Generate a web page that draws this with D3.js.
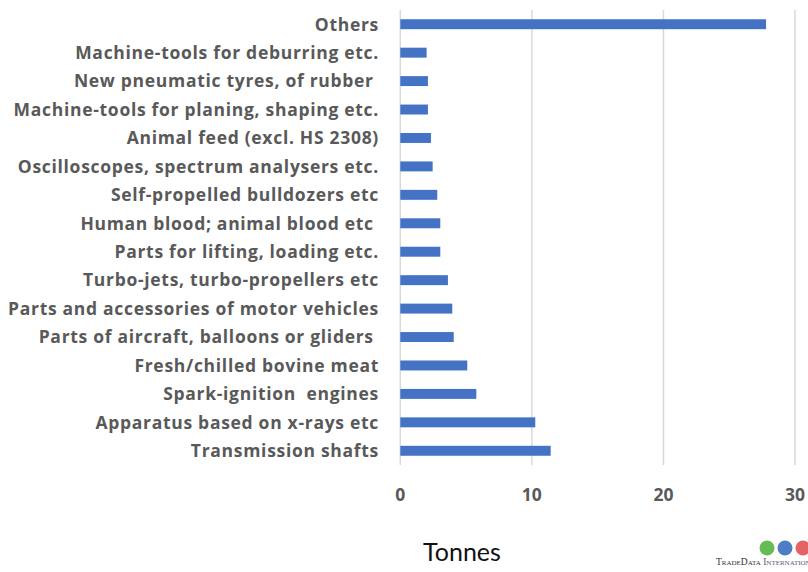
<!DOCTYPE html>
<html><head><meta charset="utf-8">
<script src="https://cdn.jsdelivr.net/npm/d3@7"></script>
<style>body{margin:0;background:#fff;} svg{display:block;}</style>
</head><body><svg id="c" width="808" height="572"></svg>
<script>
const categories = [
  "Others",
  "Machine-tools for deburring etc.",
  "New pneumatic tyres, of rubber ",
  "Machine-tools for planing, shaping etc.",
  "Animal feed (excl. HS 2308)",
  "Oscilloscopes, spectrum analysers etc.",
  "Self-propelled bulldozers etc",
  "Human blood; animal blood etc ",
  "Parts for lifting, loading etc.",
  "Turbo-jets, turbo-propellers etc",
  "Parts and accessories of motor vehicles",
  "Parts of aircraft, balloons or gliders ",
  "Fresh/chilled bovine meat",
  "Spark-ignition  engines",
  "Apparatus based on x-rays etc",
  "Transmission shafts"
];
const values = [27.8, 2.0, 2.1, 2.1, 2.33, 2.46, 2.81, 3.04, 3.04, 3.62, 3.95, 4.06, 5.09, 5.78, 10.26, 11.43];
const xTicks = [0, 10, 20, 30];
const axisTitle = "Tonnes";

const svg = d3.select("#c");
const x = d3.scaleLinear().domain([0, 30]).range([400.3, 795]);
const y = d3.scaleBand().domain(categories).range([10, 465]).paddingInner(0.65).paddingOuter(0.325);

// gridlines
svg.append("g").selectAll("line").data(xTicks).join("line")
  .attr("x1", d => x(d)).attr("x2", d => x(d))
  .attr("y1", 10).attr("y2", 465)
  .attr("stroke", "#d9d9d9").attr("stroke-width", 1.5);

// bars
svg.append("g").selectAll("rect").data(values).join("rect")
  .attr("x", x(0)).attr("y", (d, i) => y(categories[i]))
  .attr("width", d => x(d) - x(0)).attr("height", y.bandwidth())
  .attr("fill", "#4472c4");

// category labels
svg.append("g").selectAll("text").data(categories).join("text")
  .attr("x", 379).attr("y", d => y(d) + y.bandwidth() / 2)
  .attr("dy", "0.36em").attr("text-anchor", "end")
  .attr("font-family", "'Open Sans', Lato, sans-serif").attr("font-weight", "bold")
  .attr("font-size", 17.5).attr("letter-spacing", 0.7).attr("fill", "#595959")
  .style("white-space", "pre")
  .text(d => d);

// x tick labels
svg.append("g").selectAll("text").data(xTicks).join("text")
  .attr("x", d => x(d)).attr("y", 495).attr("dy", "0.36em")
  .attr("text-anchor", "middle")
  .attr("font-family", "'Open Sans', Lato, sans-serif").attr("font-weight", "bold")
  .attr("font-size", 17.5).attr("fill", "#595959")
  .text(d => d);

// axis title
svg.append("text").attr("x", 462).attr("y", 552).attr("dy", "0.36em")
  .attr("text-anchor", "middle")
  .attr("font-family", "Lato, 'Open Sans', sans-serif")
  .attr("font-size", 25).attr("fill", "#111").text(axisTitle);

// logo
const logo = svg.append("g");
const globes = [{cx: 767, c: "#4caf3a"}, {cx: 785, c: "#2f66b8"}, {cx: 803, c: "#e0484a"}];
logo.selectAll("circle").data(globes).join("circle")
  .attr("cx", d => d.cx).attr("cy", 548).attr("r", 7.5)
  .attr("fill", d => d.c).attr("opacity", 0.85);
logo.append("text").attr("x", 716).attr("y", 565)
  .attr("font-family", "'Liberation Serif', serif").attr("font-size", 9.5)
  .style("font-variant", "small-caps").attr("fill", "#333")
  .text("TradeData ")
  .append("tspan").attr("fill", "#5a5a7a").text("International");
</script></body></html>
